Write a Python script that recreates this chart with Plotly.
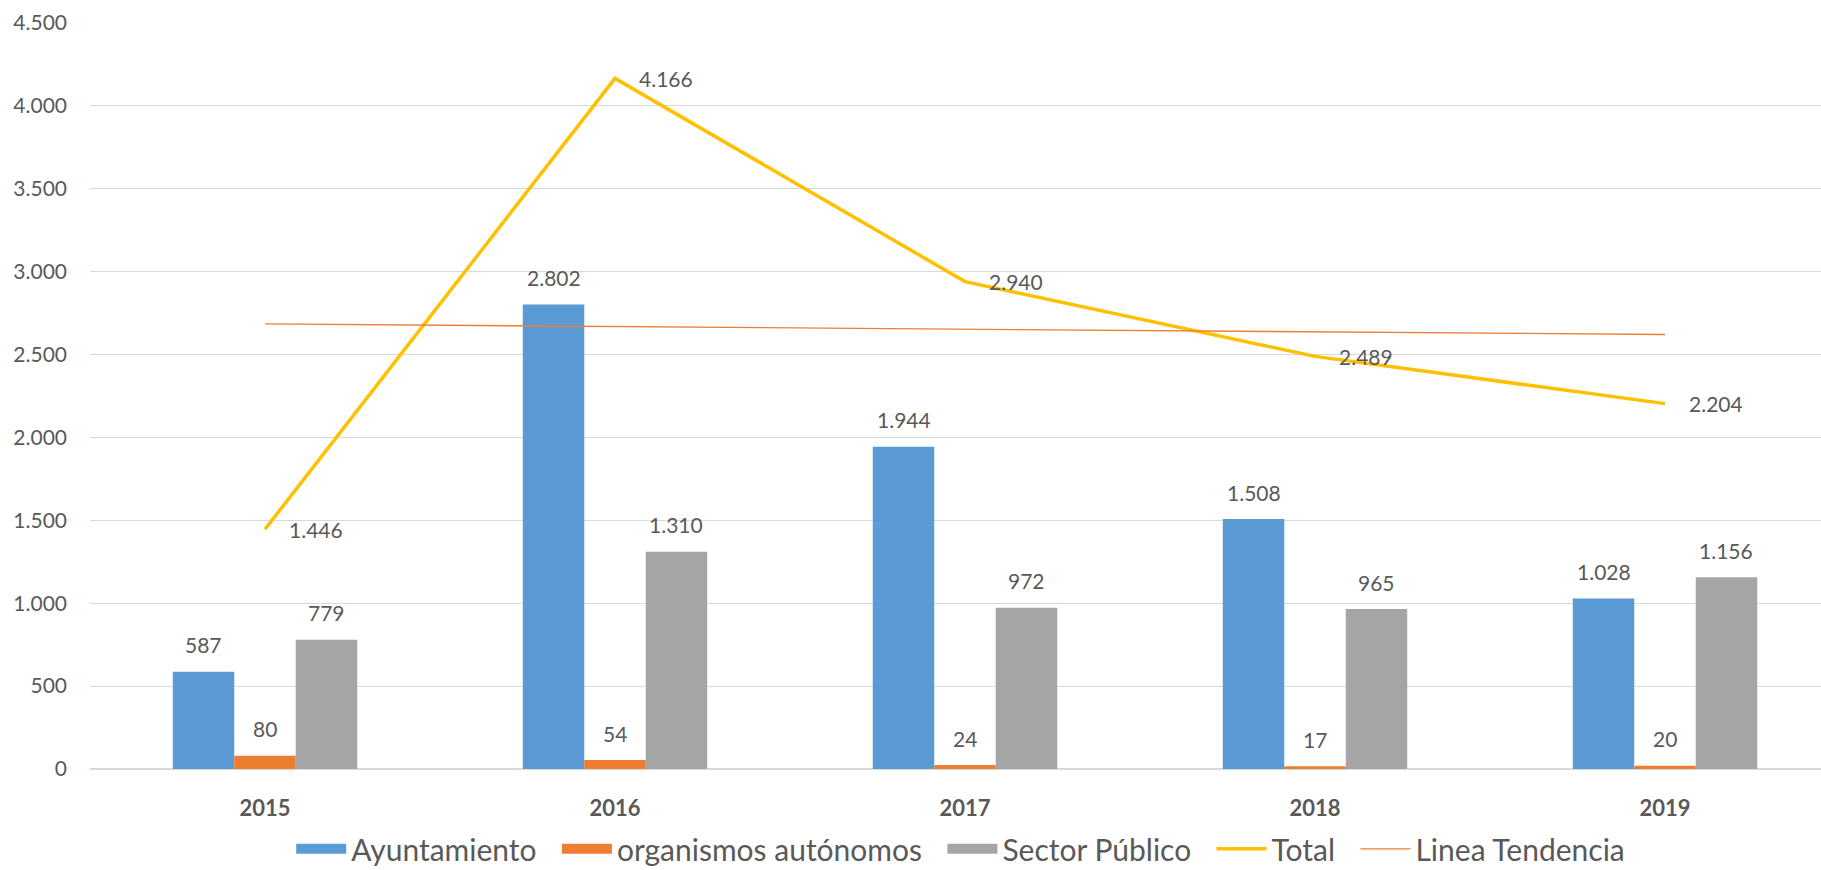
import plotly.graph_objects as go

years = ["2015", "2016", "2017", "2018", "2019"]
ayuntamiento = [587, 2802, 1944, 1508, 1028]
organismos = [80, 54, 24, 17, 20]
sector_publico = [779, 1310, 972, 965, 1156]
total = [1446, 4166, 2940, 2489, 2204]
tendencia = [2685, 2669, 2653, 2637, 2621]

names = ["Ayuntamiento", "organismos autónomos", "Sector Público", "Total", "Linea Tendencia"]
colors = ["#5B9BD5", "#ED7D31", "#A5A5A5", "#FFC000", "#ED7D31"]
text_color = "#595959"
font_family = "Lato"

W, H = 1821, 870
ml, mr, mt, mb = 90, 0, 23, 101
x_range = [-0.5, 4.4457]
bargap = 0.473
legend_pad = "\u00a0\u00a0"  # extra space after each legend entry

def fmt(v):
    return f"{v:,}".replace(",", ".")

fig = go.Figure()
bar_series = [ayuntamiento, organismos, sector_publico]
for i, vals in enumerate(bar_series):
    fig.add_trace(go.Bar(x=years, y=vals, name=names[i], marker_color=colors[i],
                         marker_line_width=0, showlegend=False, legendgroup=names[i]))
    # legend entry drawn as a wide, thick swatch (same legend group as the bars)
    fig.add_trace(go.Scatter(x=[None], y=[None], mode="lines", name=names[i] + legend_pad,
                             legendgroup=names[i], hoverinfo="skip",
                             line=dict(color=colors[i], width=18)))
fig.add_trace(go.Scatter(x=years, y=total, name=names[3] + legend_pad, mode="lines",
                         line=dict(color=colors[3], width=3.5)))
fig.add_trace(go.Scatter(x=years, y=tendencia, name=names[4], mode="lines",
                         line=dict(color=colors[4], width=1.3)))

# pixel geometry for label offsets
plot_w = W - ml - mr
px_per_cat = plot_w / (x_range[1] - x_range[0])
bar_px = px_per_cat * (1 - bargap) / 3

annotations = []
for i, vals in enumerate(bar_series):
    for k, v in enumerate(vals):
        annotations.append(dict(x=k, y=v, xref="x", yref="y", text=fmt(v), showarrow=False,
                                xshift=(i - 1) * bar_px, yshift=27,
                                yanchor="middle", xanchor="center",
                                font=dict(size=21, color=text_color, family=font_family)))
for k, v in enumerate(total):
    annotations.append(dict(x=k, y=v, xref="x", yref="y", text=fmt(v), showarrow=False,
                            xshift=22, yanchor="middle", xanchor="left",
                            font=dict(size=21, color=text_color, family=font_family)))

fig.update_layout(
    width=W, height=H,
    margin=dict(l=ml, r=mr, t=mt, b=mb, autoexpand=False),
    paper_bgcolor="white", plot_bgcolor="white",
    separators=",.",
    barmode="group", bargap=bargap, bargroupgap=0,
    font=dict(family=font_family, color=text_color, size=21),
    xaxis=dict(type="category", range=x_range, showgrid=False,
               tickfont=dict(size=22, color=text_color, family=font_family, weight="bold"),
               ticks="", ticklabelstandoff=24,
               showline=False, zeroline=False),
    yaxis=dict(range=[0, 4500], dtick=500, tickformat=",d",
               showgrid=True, gridcolor="#D9D9D9", gridwidth=1.3,
               zeroline=True, zerolinecolor="#D9D9D9", zerolinewidth=2,
               ticks="", ticklabelstandoff=22,
               tickfont=dict(size=21, color=text_color, family=font_family)),
    legend=dict(orientation="h", x=0.503, xanchor="center", y=-0.107, yanchor="middle",
                font=dict(size=30, color=text_color, family=font_family),
                itemwidth=50, tracegroupgap=0, bgcolor="rgba(0,0,0,0)",
                itemclick="toggle"),
    annotations=annotations,
    showlegend=True,
)

fig.write_html("out.html")
